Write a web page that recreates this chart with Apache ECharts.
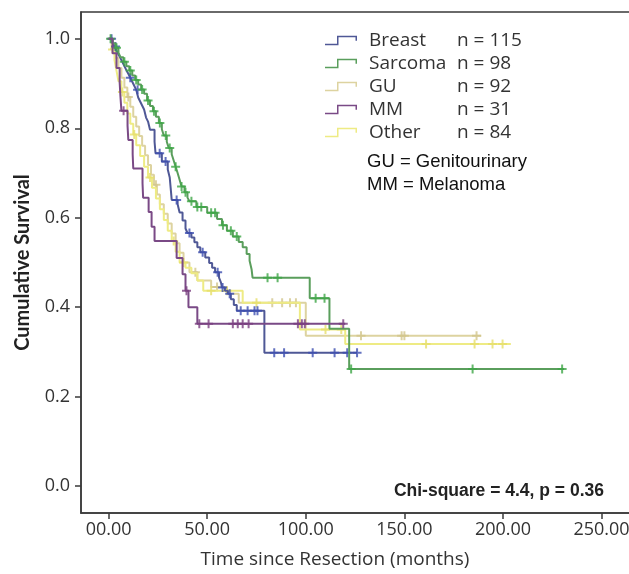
<!DOCTYPE html>
<html><head><meta charset="utf-8">
<script src="https://cdn.jsdelivr.net/npm/echarts@6/dist/echarts.min.js"></script>
<style>html,body{margin:0;padding:0;background:#fff}#c{width:629px;height:574px}</style>
</head><body><div id="c"></div>
<script>
// ---------- DATA ----------
const seriesNames = ['Breast', 'Sarcoma', 'GU', 'MM', 'Other'];
const nCounts = [115, 98, 92, 31, 84];
const xTicks = [0, 50, 100, 150, 200, 250];
const xTickLabels = ['00.00', '50.00', '100.00', '150.00', '200.00', '250.00'];
const yTicks = [0, 0.2, 0.4, 0.6, 0.8, 1.0];
const yTickLabels = ['0.0', '0.2', '0.4', '0.6', '0.8', '1.0'];

const breastTimes = [0,2,3,4,5,6,7,8,9,10,11,12,13,14,15,16,17,18,19,20,21,23.3,23.8,27,30,31,31.5,32,35,36,37.5,39,40,42,43.5,45,46.5,49,51,52.5,54,56,57,57.5,59,60.5,62,63.5,65,79,126];
const breastSurv = [1.0,0.991,0.983,0.974,0.965,0.957,0.948,0.939,0.93,0.922,0.913,0.904,0.895,0.886,0.869,0.86,0.851,0.842,0.824,0.815,0.797,0.77,0.744,0.726,0.708,0.69,0.665,0.64,0.63,0.612,0.594,0.576,0.566,0.556,0.545,0.534,0.523,0.511,0.499,0.488,0.478,0.466,0.455,0.444,0.437,0.43,0.418,0.405,0.392,0.298,0.298];
const breastCensor = [1.5,3.5,11,14.7,25.9,28.9,34.5,41,47.7,55.3,57.8,61.4,67,70.5,74,75.5,84,89,103.5,114.6,121,126];

const sarcomaTimes = [0,2,3.5,5,6,7.5,9,10.5,12,13.5,15,16.5,18,19.5,21,22.5,24,25.5,27,28,29.5,30.5,32,33,34,35,36,37,38.5,40,41,44.5,50,55,57.5,60,63,66,68,70,71.5,72.5,73,102,112,122,231];
const sarcomaSurv = [1.0,0.99,0.98,0.969,0.959,0.949,0.939,0.929,0.918,0.908,0.898,0.887,0.877,0.862,0.85,0.838,0.826,0.812,0.798,0.784,0.77,0.756,0.742,0.728,0.714,0.7,0.685,0.67,0.657,0.645,0.637,0.624,0.611,0.597,0.583,0.571,0.558,0.546,0.534,0.519,0.504,0.485,0.466,0.42,0.352,0.262,0.262];
const sarcomaCensor = [1,4,8,11,14,17,20,23,26,29,31,34,37,39,42,45,47,52,54,58,62,65,80.6,85.7,105,109.5,123,184.6,230];

const guTimes = [0,2,3.5,5,6.5,8,9.5,11,12.5,14,15.5,17,18.5,20,21.5,23,24.5,26,28,30,32,34,36,38,41,45,52,60,66,100,189];
const guSurv = [1.0,0.978,0.957,0.935,0.913,0.891,0.87,0.848,0.826,0.804,0.783,0.761,0.74,0.718,0.696,0.674,0.652,0.63,0.609,0.587,0.565,0.543,0.522,0.5,0.478,0.46,0.445,0.43,0.41,0.336,0.336];
const guCensor = [3,10,24,44,55,83,88,92,95,128,148.6,150,186.6];

const mmTimes = [0,2,4,5.6,6,6.5,9.6,10,12.2,12.5,17.2,17.5,20.3,21.8,23.3,34.5,37.5,39,40.5,45,120];
const mmSurv = [1.0,0.968,0.935,0.903,0.871,0.839,0.806,0.774,0.742,0.71,0.677,0.645,0.613,0.58,0.548,0.51,0.474,0.437,0.40,0.363,0.363];
const mmCensor = [7.6,39.5,46,50.7,63,65.5,68,71,96,98,99.5,119];

const otherTimes = [0,1.5,3,4,5,6.5,8,9.5,11,12.5,14,16,18,20,22,24,26,28,30,32,34,36,39,42,45,48,68,97,120,204];
const otherSurv = [1.0,0.976,0.952,0.929,0.905,0.881,0.857,0.833,0.81,0.786,0.762,0.738,0.714,0.69,0.667,0.643,0.619,0.595,0.571,0.548,0.524,0.5,0.488,0.476,0.46,0.437,0.41,0.35,0.318,0.318];
const otherCensor = [2,7,13,21,33,38,52,60,75,110,118,161,185.6,194.7,199.8];

const chiText = 'Chi-square = 4.4, p = 0.36';
const noteLines = ['GU = Genitourinary', 'MM = Melanoma'];

// ---------- STYLE ----------
const lineColors = { Breast: '#4f5896', Sarcoma: '#5a9e5c', GU: '#ddd3a0', MM: '#7a4a86', Other: '#eeeb84' };
const censorColors = { Breast: '#3d4fb0', Sarcoma: '#3ea647', GU: '#d2c68c', MM: '#7a3e80', Other: '#e6df6c' };
const drawOrder = ['GU', 'Other', 'Breast', 'Sarcoma', 'MM'];
const FONT = '"Open Sans", sans-serif';
const AXIS_COLOR = '#3a3a3a';
const PLUS = 'path://M3.5,0 H5.5 V3.5 H9 V5.5 H5.5 V9 H3.5 V5.5 H0 V3.5 H3.5 Z';
const LEGEND_ICON = 'path://M0,8 L12,8 L12,0 L32,0 L32,5 L30.5,5 L30.5,1.5 L13.5,1.5 L13.5,9.5 L0,9.5 Z';

const groups = {
  Breast: [breastTimes, breastSurv, breastCensor],
  Sarcoma: [sarcomaTimes, sarcomaSurv, sarcomaCensor],
  GU: [guTimes, guSurv, guCensor],
  MM: [mmTimes, mmSurv, mmCensor],
  Other: [otherTimes, otherSurv, otherCensor]
};

function survAt(times, surv, t) {
  let s = surv[0];
  for (let i = 0; i < times.length; i++) { if (times[i] <= t) s = surv[i]; }
  return s;
}

const series = [];
drawOrder.forEach((name, k) => {
  const [times, surv, cens] = groups[name];
  series.push({
    type: 'line', name: name, step: 'end',
    data: times.map((t, i) => [t, surv[i]]),
    symbol: 'none', showSymbol: false,
    lineStyle: { color: lineColors[name], width: 2 },
    itemStyle: { color: lineColors[name] },
    z: 2 + k * 2, animation: false
  });
  series.push({
    type: 'scatter', name: name + ' censored',
    data: cens.map(t => [t, survAt(times, surv, t)]),
    symbol: PLUS, symbolSize: 9,
    itemStyle: { color: censorColors[name] },
    z: 3 + k * 2, animation: false
  });
});

const chart = echarts.init(document.getElementById('c'));
chart.setOption({
  backgroundColor: '#fff',
  animation: false,
  grid: { left: 81, right: -12, top: 12, bottom: 61, show: true, borderColor: AXIS_COLOR, borderWidth: 1.5, containLabel: false, outerBoundsMode: 'none' },
  xAxis: {
    type: 'value', min: -14, max: 270,
    axisLine: { onZero: false, lineStyle: { color: AXIS_COLOR, width: 1.5 } },
    axisTick: { customValues: xTicks, length: 6, lineStyle: { color: AXIS_COLOR, width: 1.5 } },
    axisLabel: { customValues: xTicks, formatter: v => xTickLabels[xTicks.indexOf(v)], fontFamily: FONT, fontSize: 18, color: '#333', margin: 8 },
    splitLine: { show: false },
    name: 'Time since Resection (months)', nameLocation: 'middle', nameGap: 37,
    nameTextStyle: { fontFamily: FONT, fontSize: 19, color: '#333', padding: [0, 52, 0, 0] }
  },
  yAxis: {
    type: 'value', min: -0.06, max: 1.06,
    axisLine: { onZero: false, lineStyle: { color: AXIS_COLOR, width: 1.5 } },
    axisTick: { customValues: yTicks, length: 6, lineStyle: { color: AXIS_COLOR, width: 1.5 } },
    axisLabel: { customValues: yTicks, formatter: v => yTickLabels[yTicks.findIndex(y => Math.abs(y - v) < 1e-6)], fontFamily: FONT, fontSize: 18, color: '#333', margin: 11 },
    splitLine: { show: false },
    name: 'Cumulative Survival', nameLocation: 'middle', nameGap: 48, nameRotate: 90,
    nameTextStyle: { fontFamily: 'Lato, sans-serif', fontWeight: 'bold', fontSize: 20, color: '#222' }
  },
  legend: {
    orient: 'vertical', left: 320, top: 26, itemWidth: 32, itemHeight: 10, itemGap: 4,
    icon: LEGEND_ICON, data: seriesNames,
    formatter: name => '{a|' + name + '}{b|n = ' + nCounts[seriesNames.indexOf(name)] + '}',
    textStyle: {
      rich: {
        a: { width: 88, padding: [0, 0, 0, 7], fontFamily: FONT, fontSize: 19, color: '#333' },
        b: { fontFamily: FONT, fontSize: 19, color: '#333' }
      }
    }
  },
  graphic: [
    { type: 'text', left: 367, top: 152, style: { text: noteLines[0], font: '18.5px "Liberation Sans", Arial, sans-serif', fill: '#111' } },
    { type: 'text', left: 367, top: 175, style: { text: noteLines[1], font: '18.5px "Liberation Sans", Arial, sans-serif', fill: '#111' } },
    { type: 'text', right: 25, top: 482, style: { text: chiText, font: 'bold 17.5px "Liberation Sans", Arial, sans-serif', fill: '#222' } }
  ],
  series: series
});
</script>
</body></html>
